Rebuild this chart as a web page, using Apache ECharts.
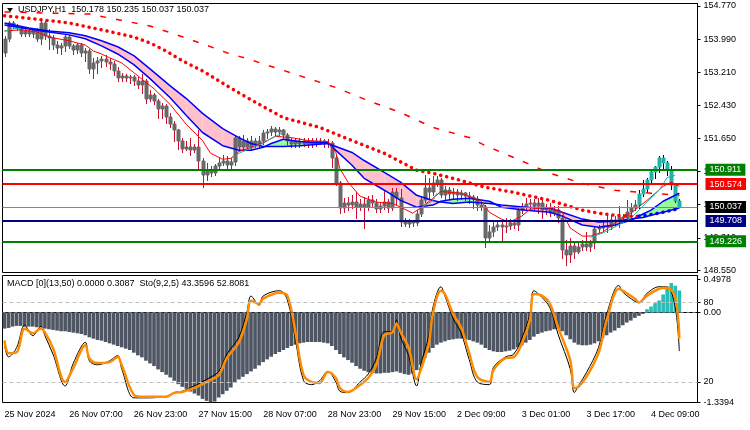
<!DOCTYPE html>
<html>
<head>
<meta charset="utf-8">
<script src="https://cdn.jsdelivr.net/npm/echarts@6/dist/echarts.min.js"></script>
<style>
  html, body { margin: 0; padding: 0; background: #fff; }
  #main { width: 750px; height: 430px; }
</style>
</head>
<body>
<div id="main"></div>
<script>
// time axis labels, one every 16 hourly bars
var tickLabels = ['25 Nov 2024', '26 Nov 07:00', '26 Nov 23:00', '27 Nov 15:00', '28 Nov 07:00',
  '28 Nov 23:00', '29 Nov 15:00', '2 Dec 09:00', '3 Dec 01:00', '3 Dec 17:00', '4 Dec 09:00'];
var priceTicks = [154.77, 153.99, 153.21, 152.43, 151.65, 150.87, 150.09, 149.31, 148.55];
var macdTicks = [0.4978, 0, -1.3394];
var stochTicks = [80, 20];

// USDJPY H1 bars: [open, close, low, high]
var candles = [
  [153.67,154.00,153.60,154.07],[154.00,154.37,153.95,154.42],[154.37,154.30,154.25,154.42],[154.30,154.25,154.21,154.35],
  [154.25,154.11,154.07,154.30],[154.11,154.18,154.07,154.23],[154.18,154.11,154.07,154.23],[154.11,154.21,154.04,154.25],
  [154.21,154.00,153.95,154.25],[154.00,154.37,153.88,154.44],[154.37,154.07,154.00,154.42],[154.07,154.02,153.76,154.23],
  [154.02,153.85,153.76,154.09],[153.85,153.78,153.67,153.95],[153.78,153.83,153.64,153.90],[153.83,154.04,153.71,154.09],
  [154.04,153.83,153.78,154.09],[153.83,153.74,153.64,153.88],[153.74,153.85,153.67,153.90],[153.85,153.67,153.60,153.90],
  [153.67,153.71,153.48,153.78],[153.71,153.29,153.20,153.76],[153.29,153.43,153.08,153.55],[153.43,153.48,153.20,153.57],
  [153.48,153.53,153.34,153.60],[153.53,153.46,153.36,153.62],[153.46,153.41,153.29,153.55],[153.41,153.24,153.15,153.48],
  [153.24,153.08,153.01,153.34],[153.08,153.13,153.01,153.20],[153.13,153.08,153.01,153.17],[153.08,153.10,152.96,153.15],
  [153.10,153.01,152.92,153.15],[153.01,152.92,152.85,153.10],[152.92,153.01,152.73,153.17],[153.01,152.59,152.49,153.06],
  [152.59,152.68,152.54,152.78],[152.68,152.54,152.47,152.73],[152.54,152.35,152.12,152.59],[152.35,152.42,152.12,152.49],
  [152.42,152.16,152.02,152.45],[152.16,152.00,151.91,152.24],[152.00,151.84,151.60,152.07],[151.84,151.60,151.41,151.88],
  [151.60,151.41,151.32,151.65],[151.41,151.46,151.37,151.60],[151.46,151.37,151.25,151.65],[151.37,151.44,151.32,151.51],
  [151.44,151.13,150.90,151.84],[151.13,150.78,150.50,151.18],[150.78,150.90,150.66,151.06],[150.90,150.83,150.76,150.99],
  [150.83,150.99,150.78,151.04],[150.99,151.06,150.94,151.18],[151.06,151.13,151.02,151.25],[151.13,151.02,150.94,151.23],
  [151.02,151.09,150.94,151.18],[151.09,151.65,151.02,151.70],[151.65,151.44,151.37,151.70],[151.44,151.60,151.41,151.72],
  [151.60,151.46,151.37,151.65],[151.46,151.58,151.41,151.70],[151.58,151.51,151.44,151.67],[151.51,151.60,151.46,151.70],
  [151.60,151.77,151.53,151.84],[151.77,151.81,151.67,151.88],[151.81,151.88,151.74,151.95],[151.88,151.81,151.74,151.93],
  [151.81,151.84,151.72,151.91],[151.84,151.72,151.65,151.88],[151.72,151.58,151.53,151.79],[151.58,151.53,151.46,151.65],
  [151.53,151.60,151.46,151.67],[151.60,151.53,151.46,151.67],[151.53,151.58,151.48,151.65],[151.58,151.53,151.46,151.65],
  [151.53,151.60,151.46,151.67],[151.60,151.55,151.48,151.65],[151.55,151.58,151.51,151.65],[151.58,151.53,151.46,151.63],
  [151.53,151.55,151.46,151.63],[151.55,151.20,150.97,151.60],[151.20,150.59,150.55,151.25],[150.59,150.01,149.89,150.64],
  [150.01,150.12,149.91,150.24],[150.12,150.08,149.96,150.26],[150.08,150.15,150.01,150.31],[150.15,150.03,149.77,150.38],
  [150.03,150.10,149.96,150.22],[150.10,150.03,149.54,150.26],[150.03,150.19,149.96,150.29],[150.19,150.12,150.03,150.31],
  [150.12,149.98,149.91,150.22],[149.98,150.05,149.91,150.12],[150.05,150.15,149.98,150.43],[150.15,150.01,149.91,150.22],
  [150.01,150.38,149.96,150.48],[150.38,150.24,150.08,150.48],[150.24,149.68,149.58,150.45],[149.68,149.63,149.58,149.77],
  [149.63,149.68,149.56,149.75],[149.68,149.65,149.58,149.72],[149.65,149.86,149.61,149.96],[149.86,150.19,149.82,150.26],
  [150.19,150.48,150.15,150.78],[150.48,150.38,150.24,150.71],[150.38,150.59,150.31,150.76],[150.59,150.66,150.52,150.76],
  [150.66,150.31,150.26,150.71],[150.31,150.43,150.22,150.52],[150.43,150.33,150.22,150.50],[150.33,150.38,150.24,150.48],
  [150.38,150.31,150.19,150.45],[150.31,150.36,150.22,150.43],[150.36,150.29,150.19,150.40],[150.29,150.26,150.12,150.38],
  [150.26,150.22,150.01,150.31],[150.22,150.08,149.96,150.29],[150.08,150.03,149.96,150.15],[150.03,149.30,149.09,150.08],
  [149.30,149.44,149.21,149.61],[149.44,149.56,149.35,149.68],[149.56,149.61,149.49,149.72],[149.61,149.56,149.25,149.68],
  [149.56,149.58,149.44,149.77],[149.58,149.65,149.51,149.75],[149.65,149.61,149.54,149.72],[149.61,149.96,149.49,150.03],
  [149.96,150.03,149.89,150.12],[150.03,150.10,149.96,150.24],[150.10,150.12,150.01,150.22],[150.12,150.05,149.96,150.22],
  [150.05,150.12,149.89,150.24],[150.12,149.96,149.77,150.19],[149.96,150.01,149.87,150.10],[150.01,149.89,149.82,150.12],
  [149.89,149.96,149.84,150.05],[149.96,149.77,149.68,150.05],[149.77,149.02,148.83,149.84],[149.02,148.90,148.67,149.25],
  [148.90,149.11,148.74,149.30],[149.11,148.97,148.83,149.18],[148.97,149.09,148.95,149.18],[149.09,149.16,149.02,149.25],
  [149.16,149.09,149.02,149.44],[149.09,149.18,149.00,149.25],[149.18,149.51,149.07,149.56],[149.51,149.54,149.44,149.61],
  [149.54,149.58,149.49,149.68],[149.58,149.56,149.44,149.89],[149.56,149.72,149.51,149.84],[149.72,149.68,149.58,149.82],
  [149.68,149.79,149.56,150.05],[149.79,149.77,149.68,149.86],[149.77,149.91,149.72,150.19],[149.91,150.01,149.86,150.12],
  [150.01,150.08,149.96,150.19],[150.08,150.33,150.01,150.43],[150.33,150.47,150.29,150.66],[150.47,150.66,150.38,150.71],
  [150.66,150.85,150.57,150.94],[150.85,150.97,150.71,151.01],[150.97,151.18,150.85,151.23],[151.18,151.06,150.94,151.25],
  [151.06,150.90,150.80,151.13],[150.90,150.55,150.47,151.01],[150.55,150.178,150.15,150.59],[150.178,150.037,150.037,150.235]
];
var tealFrom = 157;

// indicator lines: [bar index, price]
var redFast = [[0,154.18],[4,154.21],[8,154.16],[11,154.04],[16,153.95],[20,153.85],[22,153.71],[24,153.64],[26,153.55],
  [29,153.43],[32,153.20],[37,152.82],[41,152.45],[45,151.98],[49,151.60],[51,151.30],[54,151.16],[56,151.18],[58,151.34],
  [61,151.44],[64,151.55],[67,151.70],[71,151.67],[75,151.60],[78,151.58],[80,151.58],[82,151.32],[83,150.94],[85,150.62],
  [88,150.29],[92,150.15],[96,150.12],[98,150.03],[101,149.89],[103,150.01],[106,150.24],[108,150.40],[113,150.36],
  [118,150.17],[120,149.91],[123,149.75],[125,149.68],[128,149.82],[130,149.98],[134,150.03],[138,149.91],[140,149.54],
  [143,149.35],[145,149.35],[148,149.44],[151,149.65],[155,149.89],[159,150.19],[163,150.52],[165,150.62],[167,150.52]];

var bandSlow = [[0,154.37],[6,154.25],[11,154.18],[16,154.14],[20,154.07],[24,153.95],[28,153.81],[32,153.60],[36,153.29],
  [41,152.89],[45,152.59],[49,152.24],[54,151.88],[58,151.67],[61,151.53],[64,151.46],[66,151.46],[69,151.46],[73,151.48],
  [77,151.51],[80,151.53],[82,151.46],[86,151.32],[89,151.13],[94,150.85],[98,150.62],[102,150.31],[106,150.19],[108,150.15],
  [111,150.12],[115,150.15],[120,150.12],[123,150.08],[129,150.03],[135,150.01],[138,149.91],[143,149.75],[147,149.68],
  [151,149.70],[155,149.75],[158,149.79],[160,149.84],[163,149.91],[167,150.01]];
var bandFast = [[0,154.32],[6,154.23],[11,154.16],[16,154.09],[20,154.00],[24,153.83],[28,153.64],[32,153.39],[36,153.06],
  [41,152.61],[45,152.19],[49,151.79],[54,151.48],[58,151.37],[61,151.37],[64,151.44],[66,151.53],[69,151.63],[73,151.58],
  [77,151.55],[80,151.55],[82,151.37],[86,151.02],[89,150.71],[94,150.43],[98,150.19],[102,150.03],[106,150.08],[108,150.17],
  [111,150.22],[115,150.24],[120,150.17],[123,150.03],[129,149.96],[135,149.91],[138,149.82],[143,149.61],[147,149.56],
  [151,149.61],[155,149.72],[158,149.87],[160,149.96],[163,150.17],[167,150.36]];

var tealSegs = [
  [[0,154.18],[2,154.23],[4,154.25]],
  [[56,151.18],[58,151.30],[61,151.42],[64,151.53],[66,151.65],[69,151.79]],
  [[103,150.01],[106,150.19],[107,150.36]],
  [[145,149.32],[148,149.42],[151,149.56],[155,149.77],[159,150.15],[162,150.43],[164,150.73],[166,150.78]]
];

var dotsDown = [[0,154.54],[7,154.47],[16,154.37],[24,154.21],[32,154.04],[36,153.90],[40,153.71],[44,153.48],[49,153.24],
  [53,153.01],[57,152.78],[61,152.56],[69,152.14],[78,151.91],[86,151.60],[94,151.30],[102,150.90],[106,150.83],[111,150.71],
  [119,150.50],[126,150.38],[135,150.19],[143,149.96],[147,149.89],[151,149.84],[155,149.82],[157,149.82]];
var dotsUp = [[157,149.82],[159,149.84],[163,149.91],[167,150.00]];

var slowDash = [[0,154.63],[21,154.58],[36,154.30],[42,154.11],[49,153.88],[55,153.67],[60,153.53],[73,153.13],[82,152.85],
  [90,152.54],[98,152.26],[106,151.91],[115,151.67],[119,151.48],[123,151.32],[126,151.20],[135,150.83],[143,150.59],
  [151,150.43],[160,150.36],[167,150.31]];

var levels = [150.911, 150.574, 150.037, 149.708, 149.226];

// MACD histogram per bar
var macdHist = [
  -0.24,-0.23,-0.21,-0.20,-0.20,-0.21,-0.21,-0.21,-0.22,-0.22,-0.24,-0.25,-0.26,-0.27,-0.28,-0.28,
  -0.29,-0.30,-0.31,-0.32,-0.34,-0.37,-0.39,-0.41,-0.42,-0.44,-0.46,-0.48,-0.50,-0.52,-0.54,-0.56,
  -0.60,-0.64,-0.67,-0.72,-0.76,-0.80,-0.85,-0.89,-0.93,-0.97,-1.02,-1.07,-1.11,-1.14,-1.18,-1.21,
  -1.24,-1.29,-1.32,-1.3394,-1.33,-1.27,-1.22,-1.17,-1.12,-1.04,-1.00,-0.96,-0.92,-0.88,-0.84,-0.79,
  -0.74,-0.70,-0.66,-0.62,-0.59,-0.56,-0.53,-0.50,-0.48,-0.46,-0.45,-0.44,-0.44,-0.44,-0.44,-0.45,
  -0.46,-0.50,-0.56,-0.62,-0.67,-0.71,-0.75,-0.80,-0.84,-0.87,-0.89,-0.90,-0.91,-0.91,-0.90,-0.90,
  -0.89,-0.88,-0.90,-0.92,-0.93,-0.91,-0.86,-0.78,-0.68,-0.60,-0.53,-0.48,-0.45,-0.43,-0.41,-0.40,
  -0.39,-0.39,-0.40,-0.41,-0.43,-0.45,-0.48,-0.53,-0.56,-0.58,-0.59,-0.59,-0.58,-0.57,-0.55,-0.52,
  -0.49,-0.45,-0.41,-0.36,-0.32,-0.30,-0.28,-0.27,-0.25,-0.24,-0.28,-0.34,-0.40,-0.45,-0.48,-0.49,
  -0.49,-0.48,-0.46,-0.43,-0.38,-0.34,-0.30,-0.27,-0.23,-0.19,-0.15,-0.12,-0.08,-0.05,-0.02,0.05,
  0.09,0.14,0.18,0.27,0.36,0.44,0.40,0.33
];

// stochastic (9,2,5): [bar index, value]
var stochMain = [[0,48],[1,39],[3,46],[5,63],[7,55],[9,62],[10,55],[12,41],[15,17],[17,34],[20,50],[21,36],[23,33],[26,36],
  [28,40],[29,30],[32,8],[34,8],[40,9],[42,12],[44,13],[47,17],[50,22],[53,28],[55,41],[58,54],[60,73],[61,85],[63,78],
  [64,85],[68,89],[70,82],[72,52],[74,21],[76,18],[78,21],[80,28],[82,20],[83,13],[85,12],[88,20],[90,26],[92,38],[94,58],
  [96,58],[97,67],[98,54],[100,40],[102,17],[103,33],[105,55],[106,76],[108,92],[109,85],[111,68],[113,57],[115,37],[117,20],
  [120,18],[121,31],[124,39],[126,41],[128,53],[130,71],[131,89],[133,84],[135,76],[137,56],[140,30],[141,12],[142,17],
  [144,27],[147,46],[149,71],[152,93],[153,88],[156,81],[157,80],[159,87],[162,92],[164,92],[166,76],[167,43.36]];
var stochSignal = [[0,51.5],[1,41.8],[3,42.5],[5,60.5],[7,56.8],[9,60.5],[10,57.5],[12,45.5],[15,20],[17,30.5],[20,47.8],
  [21,38],[23,34.3],[26,35],[28,38.8],[29,32.8],[32,10.3],[34,8.8],[40,8.8],[42,11.8],[44,12.5],[47,15.5],[50,20],[53,25.3],
  [55,38],[58,50],[60,68],[61,81.5],[63,79],[64,83],[68,87.5],[70,85.3],[72,57.5],[74,25.3],[76,20],[78,19.3],[80,27.5],
  [82,23],[83,15.5],[85,12.5],[88,17.8],[90,23],[92,32.8],[94,55.3],[96,57.5],[97,64.3],[98,57.8],[100,46],[102,22],[103,29],
  [105,49],[106,71.5],[108,89],[109,86.5],[111,71.5],[113,61.3],[115,41.8],[117,23.8],[120,20],[121,29],[124,38],[126,38.8],
  [128,49],[130,66.5],[131,86.5],[133,85.3],[135,79],[137,61.3],[140,36.5],[141,15.5],[142,16.3],[144,23.8],[147,41.8],
  [149,66.5],[152,90.5],[153,89],[156,83],[157,80],[159,85.3],[162,90.5],[164,91.3],[166,83.8],[167,52.81]];

var FONT = 'Liberation Sans, Arial, sans-serif';
var N = 172; // bar slots incl. right shift
var cats = [];
for (var k = 0; k < N; k++) cats.push(String(k));

var chart = echarts.init(document.getElementById('main'));

function renderCandle(params, api) {
  var i = api.value(0);
  var pO = api.coord([i, api.value(1)]);
  var pC = api.coord([i, api.value(2)]);
  var pL = api.coord([i, api.value(3)]);
  var pH = api.coord([i, api.value(4)]);
  var x = Math.round(pO[0]);
  var top = Math.round(Math.min(pO[1], pC[1]));
  var bot = Math.round(Math.max(pO[1], pC[1]));
  var teal = i >= tealFrom;
  return {
    type: 'group',
    children: [
      { type: 'line', shape: { x1: x + 0.5, y1: Math.round(pH[1]), x2: x + 0.5, y2: Math.round(pL[1]) + 1 },
        style: { stroke: teal ? '#000' : '#c8102e', lineWidth: 1 } },
      { type: 'rect', shape: { x: x - 1, y: top, width: 3, height: Math.max(1, bot - top) },
        style: { fill: teal ? '#20b2aa' : '#696969', stroke: teal ? '#20b2aa' : '#696969', lineWidth: 1 } }
    ]
  };
}

function renderBand(params, api) {
  var k = params.dataIndex;
  if (k >= bandSlow.length - 1) return;
  var a = bandSlow[k], b = bandSlow[k + 1], fa = bandFast[k], fb = bandFast[k + 1];
  var up = fa[1] + fb[1] > a[1] + b[1];
  return {
    type: 'polygon',
    shape: { points: [api.coord(a), api.coord(b), api.coord(fb), api.coord(fa)] },
    style: { fill: up ? '#98fb98' : '#ffc0cb' }
  };
}

var levelColors = ['#008000', '#ff0000', '#778899', '#000080', '#008000'];
var tagColors = ['#008000', '#ff0000', '#000000', '#000080', '#008000'];

function lineSeries(data, color, width, z, type, xi, yi) {
  return {
    type: 'line', data: data, xAxisIndex: xi || 0, yAxisIndex: yi || 0,
    symbol: 'none', z: z, silent: true,
    lineStyle: { color: color, width: width, type: type || 'solid' }
  };
}

var series = [
  { type: 'custom', renderItem: renderBand, z: 1, silent: true,
    data: bandSlow.map(function (d, k) { return [d[0], d[1], bandFast[k][1]]; }),
    encode: { x: 0, y: [1, 2] } },
  { type: 'custom', renderItem: renderCandle, z: 2, silent: true,
    data: candles.map(function (d, i) { return [i, d[0], d[1], d[2], d[3]]; }),
    encode: { x: 0, y: [1, 2, 3, 4] },
    markLine: {
      silent: true, symbol: ['none', 'none'], animation: false, precision: 3,
      data: levels.map(function (v, k) {
        return {
          yAxis: v,
          lineStyle: { color: levelColors[k], width: k === 2 ? 1 : 2, type: 'solid' },
          label: { backgroundColor: tagColors[k] }
        };
      }),
      label: {
        show: true, position: 'end', distance: 8, color: '#fff',
        fontFamily: FONT, fontSize: 9, padding: [2, 4, 1, 4],
        formatter: function (p) { return Number(p.value).toFixed(3); }
      }
    }
  },
  lineSeries(bandSlow, '#0000ff', 1.5, 3),
  lineSeries(bandFast, '#0000ff', 1.5, 3),
  lineSeries(redFast, '#ff0000', 1, 3),
  lineSeries(slowDash, '#ff0000', 1.5, 3, [6, 10])
];
tealSegs.forEach(function (seg) { series.push(lineSeries(seg, '#20b2aa', 1, 3)); });
var dotStyle = { width: 3.5, type: [0.1, 6], cap: 'round' };
series.push({ type: 'line', data: dotsDown, symbol: 'none', z: 4, silent: true,
  lineStyle: Object.assign({ color: '#ff0000' }, dotStyle) });
series.push({ type: 'line', data: dotsUp, symbol: 'none', z: 4, silent: true,
  lineStyle: Object.assign({ color: '#0000ff' }, dotStyle) });

series.push({
  type: 'bar', xAxisIndex: 1, yAxisIndex: 1, barCategoryGap: '10%', silent: true,
  data: macdHist.map(function (v) {
    return { value: v, itemStyle: { color: v >= 0 ? '#2abdb6' : '#4e5664' } };
  }),
  markLine: {
    silent: true, symbol: ['none', 'none'], animation: false, label: { show: false },
    lineStyle: { color: '#6a7585', width: 1, type: [3, 3] },
    data: [{ yAxis: 0 }]
  }
});
var stMain = lineSeries(stochMain, '#000000', 1, 3, 'solid', 1, 2);
stMain.smooth = 0.35;
series.push(stMain);
var sig = lineSeries(stochSignal, '#ff8c00', 2.5, 4, 'solid', 1, 2);
sig.smooth = 0.35;
sig.markLine = {
  silent: true, symbol: ['none', 'none'], animation: false, label: { show: false },
  lineStyle: { color: '#c0c0c0', width: 1, type: [4, 3] },
  data: [{ yAxis: 80 }, { yAxis: 20 }]
};
series.push(sig);

var labelStyle = { color: '#000', fontFamily: FONT, fontSize: 9 };

chart.setOption({
  animation: false,
  backgroundColor: '#fff',
  grid: [
    { left: 2.5, top: 3.5, width: 695, height: 269, show: true, borderColor: '#000', borderWidth: 1 },
    { left: 2.5, top: 275.5, width: 695, height: 127, show: true, borderColor: '#000', borderWidth: 1 }
  ],
  xAxis: [
    { type: 'category', gridIndex: 0, data: cats, boundaryGap: true,
      axisLine: { show: false }, axisTick: { show: false }, axisLabel: { show: false }, splitLine: { show: false } },
    { type: 'category', gridIndex: 1, data: cats, boundaryGap: true,
      axisLine: { lineStyle: { color: '#000' } },
      axisTick: { alignWithLabel: true, length: 4, lineStyle: { color: '#000' },
        interval: function (i) { return i % 16 === 0; } },
      axisLabel: Object.assign({ align: 'left', margin: 8,
        interval: function (i) { return i % 16 === 0; },
        formatter: function (v, i) { return tickLabels[i / 16] || ''; } }, labelStyle),
      splitLine: { show: false } }
  ],
  yAxis: [
    { type: 'value', gridIndex: 0, position: 'right', min: 148.492, max: 154.829,
      axisLine: { show: true, lineStyle: { color: '#000' } },
      axisTick: { show: true, length: 3, customValues: priceTicks, lineStyle: { color: '#000' } },
      axisLabel: Object.assign({ customValues: priceTicks, margin: 6,
        formatter: function (v) { return v.toFixed(3); } }, labelStyle),
      splitLine: { show: false } },
    { type: 'value', gridIndex: 1, position: 'right', min: -1.344, max: 0.553,
      axisLine: { show: true, lineStyle: { color: '#000' } },
      axisTick: { show: true, length: 3, customValues: macdTicks, lineStyle: { color: '#000' } },
      axisLabel: Object.assign({ customValues: macdTicks, margin: 6,
        formatter: function (v) { return v === 0 ? '0.00' : v.toFixed(4); } }, labelStyle),
      splitLine: { show: false } },
    { type: 'value', gridIndex: 1, position: 'right', min: 4.5, max: 100.5,
      axisLine: { show: false },
      axisTick: { show: true, length: 3, customValues: stochTicks, lineStyle: { color: '#000' } },
      axisLabel: Object.assign({ customValues: stochTicks, margin: 6 }, labelStyle),
      splitLine: { show: false } }
  ],
  graphic: [
    { type: 'polygon', shape: { points: [[7, 8], [13, 8], [10, 12]] }, style: { fill: '#000' } },
    { type: 'text', left: 18, top: 5,
      style: { text: 'USDJPY,H1  150.178 150.235 150.037 150.037', fill: '#000', font: '9px ' + FONT } },
    { type: 'text', left: 7, top: 279,
      style: { text: 'MACD [0](13,50) 0.0000 0.3087  Sto(9,2,5) 43.3596 52.8081', fill: '#000', font: '9px ' + FONT } }
  ],
  series: series
});
</script>
</body>
</html>
